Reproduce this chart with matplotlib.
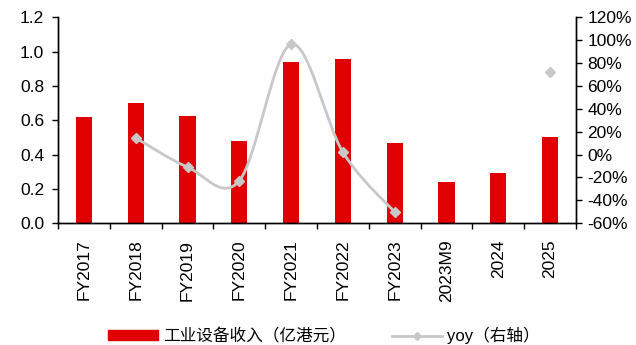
import numpy as np
import matplotlib
matplotlib.use("Agg")
import matplotlib.pyplot as plt
from matplotlib.path import Path
from matplotlib.patches import PathPatch, Patch
from matplotlib.lines import Line2D
from matplotlib.ticker import FuncFormatter

plt.rcParams['font.family'] = ['Liberation Sans', 'Noto Sans CJK SC', 'DejaVu Sans']

# 数据
categories = ['FY2017', 'FY2018', 'FY2019', 'FY2020', 'FY2021', 'FY2022',
              'FY2023', '2023M9', '2024', '2025']
revenue = [0.62, 0.70, 0.625, 0.48, 0.94, 0.96, 0.47, 0.24, 0.29, 0.50]   # 亿港元
yoy = [np.nan, 14.5, -11.0, -23.0, 96.5, 2.0, -50.5, np.nan, np.nan, 72.5]  # %

bar_color = '#E00000'
line_color = '#C8C8C8'

fig = plt.figure(figsize=(6.36, 3.45), dpi=100)
ax = fig.add_axes([0.0912, 0.3536, 0.8145, 0.5957])
x = np.arange(len(categories))

ax.bar(x, revenue, width=0.31, color=bar_color, zorder=2)
ax.set_xlim(-0.5, len(categories) - 0.5)
ax.set_ylim(0, 1.2)
ax.set_yticks(np.arange(0, 1.21, 0.2))
ax.yaxis.set_major_formatter(FuncFormatter(lambda v, p: f'{v:.1f}'))
ax.set_xticks(x)
ax.set_xticklabels(categories, rotation=90)
ax.set_xticks(np.arange(-0.5, len(categories), 1.0), minor=True)
ax.tick_params(axis='x', which='major', length=0, pad=12, labelsize=12.5)
ax.tick_params(axis='x', which='minor', length=4, width=1, direction='out')
ax.tick_params(axis='y', length=4, width=1, labelsize=12.5, pad=6)
ax.spines['top'].set_visible(False)

ax2 = ax.twinx()
ax2.set_ylim(-60, 120)
ax2.set_yticks(np.arange(-60, 121, 20))
ax2.yaxis.set_major_formatter(FuncFormatter(lambda v, p: f'{v:.0f}%'))
ax2.tick_params(axis='y', length=4, width=1, labelsize=12.5, pad=4)
ax2.spines['top'].set_visible(False)
for a in (ax, ax2):
    for s in a.spines.values():
        s.set_color('#000000')
        s.set_linewidth(1)


# 平滑曲线（类似 Excel 的平滑线）
def smooth_path(xs, ys):
    pts = np.column_stack([xs, ys])
    verts = [pts[0]]
    codes = [Path.MOVETO]
    n = len(pts)
    for i in range(n - 1):
        p0 = pts[i - 1] if i > 0 else pts[i]
        p1 = pts[i]
        p2 = pts[i + 1]
        p3 = pts[i + 2] if i + 2 < n else pts[i + 1]
        c1 = p1 + (p2 - p0) / 6.0
        c2 = p2 - (p3 - p1) / 6.0
        verts += [c1, c2, p2]
        codes += [Path.CURVE4] * 3
    return Path(verts, codes)


yoy_arr = np.array(yoy)
valid = ~np.isnan(yoy_arr)
# 连续段
seg = []
for i in range(len(x)):
    if valid[i]:
        seg.append(i)
    if (not valid[i] or i == len(x) - 1) and seg:
        if len(seg) > 1:
            path = smooth_path(x[seg].astype(float), yoy_arr[seg])
            ax2.add_patch(PathPatch(path, fill=False, edgecolor=line_color, lw=2, zorder=3))
        seg = []
ax2.plot(x[valid], yoy_arr[valid], linestyle='none', marker='D', markersize=5,
         color=line_color, zorder=4)

handles = [Patch(facecolor=bar_color, edgecolor=bar_color),
           Line2D([], [], color=line_color, lw=2, marker='D', markersize=4)]
labels = ['工业设备收入（亿港元）', 'yoy（右轴）']
fig.legend(handles, labels, loc='center left', bbox_to_anchor=(0.170, 0.027),
           ncol=2, frameon=False, fontsize=12, handlelength=3.0, handleheight=0.55,
           handletextpad=0.3, columnspacing=2.75, borderaxespad=0, borderpad=0)

fig.savefig('out.png', dpi=100)
